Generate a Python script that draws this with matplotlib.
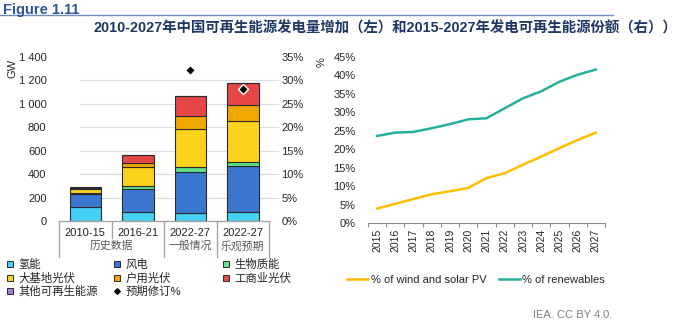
import matplotlib
matplotlib.use("Agg")
import matplotlib.pyplot as plt
from matplotlib.lines import Line2D
import matplotlib.transforms as mtransforms
import numpy as np

plt.rcParams['font.family'] = ['Liberation Sans', 'Noto Sans CJK SC', 'DejaVu Sans']

# ---------------- data ----------------
periods = ["2010-15", "2016-21", "2022-27", "2022-27"]
groups = ["历史数据", "一般情况", "乐观预期"]
series_names = ["氢能", "风电", "生物质能", "大基地光伏", "户用光伏", "工商业光伏", "其他可再生能源"]
hydro = [120, 74, 68, 76]
wind = [112, 195, 351, 391]
bio = [8, 28, 45, 36]
utility_pv = [30, 161, 319, 351]
residential_pv = [8, 40, 116, 133]
commercial_pv = [5, 62, 167, 195]
other = [7, 0, 0, 0]
revision_pct = [None, None, 32.3, 28.1]

years = [2015, 2016, 2017, 2018, 2019, 2020, 2021, 2022, 2023, 2024, 2025, 2026, 2027]
share_wind_solar = [3.9, 5.2, 6.5, 7.8, 8.6, 9.5, 12.2, 13.5, 15.8, 18.0, 20.3, 22.5, 24.5]
share_renewables = [23.6, 24.5, 24.7, 25.7, 26.8, 28.1, 28.4, 31.1, 33.8, 35.7, 38.3, 40.2, 41.6]

colors = ["#45d0f5", "#3a78d0", "#5fe08a", "#fcd21c", "#f0a800", "#e54646", "#a47be0"]
edge = "#2b2b2b"
navy = "#1f3864"

W, H = 680, 324
fig = plt.figure(figsize=(W / 100, H / 100), dpi=100)

def fx(px):
    return px / W

def fy(py):
    return 1 - py / H

# ---------------- titles ----------------
fig.text(fx(3), fy(10), "Figure 1.11", fontsize=10.5, fontweight="bold", color="#2e5597",
         ha="left", va="center")
fig.add_artist(Line2D([0, fx(613)], [fy(15), fy(15)], color="#6f8fc0", lw=1.0))
fig.text(fx(677), fy(28), "2010-2027年中国可再生能源发电量增加（左）和2015-2027年发电可再生能源份额（右））",
         fontsize=10.4, fontweight="bold", color=navy, ha="right", va="center")

# ---------------- left chart ----------------
axl = fig.add_axes([fx(59), fy(221), (269 - 59) / W, (221 - 57) / H])
x = np.arange(len(periods))
stack = [hydro, wind, bio, utility_pv, residential_pv, commercial_pv, other]
bottom = np.zeros(len(periods))
for vals, c, name in zip(stack, colors, series_names):
    v = np.array(vals, dtype=float)
    axl.bar(x, v, bottom=bottom, width=0.6, color=c, edgecolor=edge, linewidth=0.8,
            label=name, zorder=3)
    bottom += v

axl.set_xlim(-0.5, 3.5)
axl.set_ylim(0, 1400)
axl.set_yticks(np.arange(0, 1401, 200))
axl.set_yticklabels([f"{v:,}".replace(",", " ") for v in range(0, 1401, 200)])
axl.tick_params(axis="y", length=0, pad=9, labelsize=8, labelcolor="#262626")
axl.set_xticks([])
for s in axl.spines.values():
    s.set_visible(False)
for g in range(200, 1201, 200):
    axl.axhline(g, xmin=0.1, xmax=1.043, color="#dedede", lw=0.9, zorder=0, clip_on=False)

axr = axl.twinx()
axr.set_ylim(0, 35)
axr.set_yticks(np.arange(0, 36, 5))
axr.set_yticklabels([f"{v}%" for v in range(0, 36, 5)])
axr.tick_params(axis="y", length=0, pad=9, labelsize=8, labelcolor="#262626")
for s in axr.spines.values():
    s.set_visible(False)
for xi, p in zip(x, revision_pct):
    if p is not None:
        axr.plot(xi, p, marker="D", markersize=5.5, color="black", markeredgecolor="white",
                 markeredgewidth=1.0, zorder=5, linestyle="none")

fig.text(fx(12), fy(68), "GW", rotation=90, fontsize=8, color="#262626", ha="center", va="center")

# category table under the left chart
trans = mtransforms.blended_transform_factory(axl.transData, axl.transAxes)
gray = "#a6a6a6"
axl.plot([-0.5, 3.5], [0, 0], transform=trans, color=gray, lw=1.0, clip_on=False, zorder=4)
y_short = -(238 - 221) / 164
y_long = -(257 - 221) / 164
for b, yl in zip([-0.5, 0.5, 1.5, 2.5, 3.5], [y_long, y_short, y_long, y_long, y_long]):
    axl.plot([b, b], [0, yl], transform=trans, color=gray, lw=1.0, clip_on=False)
for xi, lab in zip(x, periods):
    axl.text(xi, -(233 - 221) / 164, lab, transform=trans, ha="center", va="center",
             fontsize=8, color="#262626")
for xc, lab in zip([0.5, 2, 3], groups):
    axl.text(xc, -(246 - 221) / 164, lab, transform=trans, ha="center", va="center",
             fontsize=7.8, color="#595959")

# legend for left chart (3 columns)
def sq(c):
    return Line2D([], [], marker="s", markersize=5, color=c, markeredgecolor=edge,
                  markeredgewidth=0.7, linestyle="none")

cols = [
    ([sq(colors[0]), sq(colors[3]), sq(colors[6])], [series_names[0], series_names[3], series_names[6]], 5),
    ([sq(colors[1]), sq(colors[4]),
      Line2D([], [], marker="D", markersize=2.8, color="black", linestyle="none")],
     [series_names[1], series_names[4], "预期修订%"], 112),
    ([sq(colors[2]), sq(colors[5])], [series_names[2], series_names[5]], 221),
]
for hs, ls, px in cols:
    fig.legend(hs, ls, loc="upper left", bbox_to_anchor=(fx(px), fy(259)), frameon=False,
               fontsize=8.2, handlelength=0.8, handletextpad=0.4, labelspacing=0.2,
               borderpad=0, borderaxespad=0, labelcolor="#262626")

# ---------------- right chart ----------------
ax2 = fig.add_axes([fx(368), fy(223), (605 - 368) / W, (223 - 57) / H])
ax2.plot(years, share_wind_solar, color="#ffbf00", lw=1.8, label="% of wind and solar PV")
ax2.plot(years, share_renewables, color="#26b09c", lw=1.8, label="% of renewables")
ax2.set_xlim(years[0] - 0.5, years[-1] + 0.5)
ax2.set_ylim(0, 45)
ax2.set_yticks(np.arange(0, 46, 5))
ax2.set_yticklabels([f"{v}%" for v in range(0, 46, 5)])
ax2.tick_params(axis="y", length=0, pad=9, labelsize=8, labelcolor="#262626")
ax2.set_xticks(years)
ax2.set_xticklabels([str(y) for y in years], rotation=90)
ax2.tick_params(axis="x", which="major", length=0, pad=4, labelsize=7.5, labelcolor="#262626")
ax2.set_xticks(np.arange(years[0] - 0.5, years[-1] + 0.6, 1), minor=True)
ax2.tick_params(axis="x", which="minor", length=3, color="#8c8c8c", width=0.8)
for k, s in ax2.spines.items():
    s.set_visible(k == "bottom")
ax2.spines["bottom"].set_color("#8c8c8c")
ax2.spines["bottom"].set_linewidth(0.8)

fig.text(fx(322), fy(62), "%", rotation=90, fontsize=8, color="#262626", ha="center", va="center")

fig.legend(loc="center", bbox_to_anchor=(fx(476), fy(280)), ncol=2, frameon=False,
           fontsize=8, handlelength=1.9, handletextpad=0.2, columnspacing=1.1,
           handles=ax2.get_lines(), labelcolor="#262626")

fig.text(fx(612), fy(315), "IEA. CC BY 4.0.", fontsize=8, color="#7f7f7f", ha="right", va="center")

fig.savefig("out.png", dpi=100)
